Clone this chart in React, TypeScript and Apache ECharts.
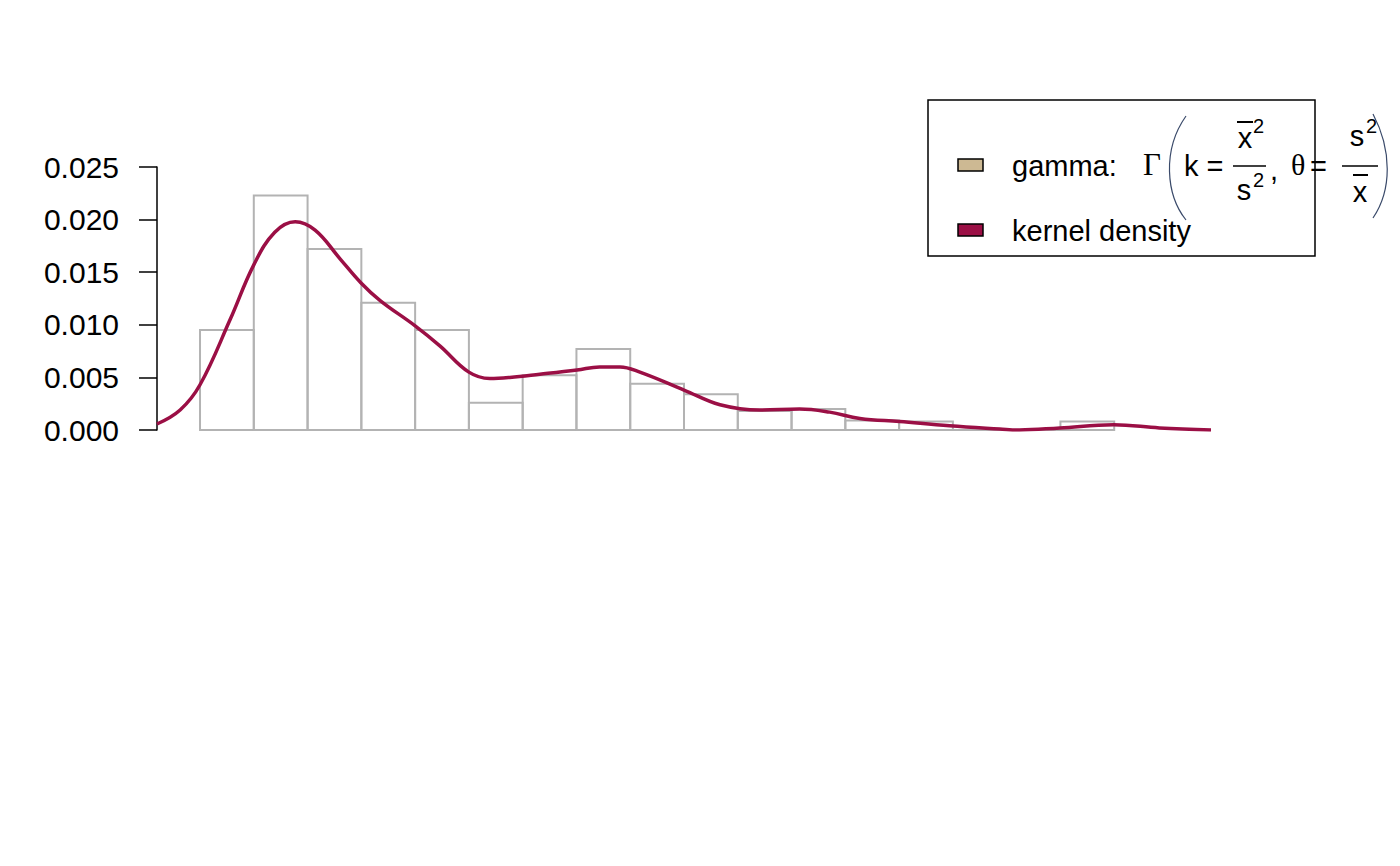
import React, { useEffect, useRef } from "react";
import * as echarts from "echarts";

const binStarts = [0, 1, 2, 3, 4, 5, 6, 7, 8, 9, 10, 11, 12, 13, 14, 15, 16];
const binHeights = [0.0095, 0.0223, 0.0172, 0.0121, 0.0095, 0.0026, 0.0052, 0.0077, 0.0044, 0.0034, 0.0018, 0.002, 0.0009, 0.0008, 0, 0, 0.0008];
const densX = [-0.8, -0.37, 0, 0.56, 1.0, 1.39, 1.77, 2.14, 2.6, 2.99, 3.35, 4.0, 4.46, 5.0, 5.39, 5.76, 6.32, 7.01, 7.43, 7.81, 8.18, 9.0, 9.67, 10.41, 11.15, 11.71, 12.27, 13.01, 13.94, 14.87, 15.24, 15.99, 16.99, 17.84, 18.8];
const densY = [0.00057, 0.0019, 0.0043, 0.0105, 0.0157, 0.0188, 0.0198, 0.019, 0.0163, 0.014, 0.0123, 0.0099, 0.008, 0.0055, 0.0049, 0.005, 0.0053, 0.0057, 0.006, 0.006, 0.0055, 0.0038, 0.0024, 0.0019, 0.002, 0.0017, 0.0011, 0.0008, 0.0004, 0.0001, 0, 0.0002, 0.0005, 0.0002, 0];
const yTicks = [0, 0.005, 0.01, 0.015, 0.02, 0.025];

const F = "Liberation Sans, Arial, sans-serif";
const txt = (x: number, y: number, text: string, size = 29, family = F, align = "left") => ({
  type: "text", x, y,
  style: { text, font: `${size}px ${family}`, fill: "#000", textAlign: align, textVerticalAlign: "middle" },
});
const ln = (x1: number, y1: number, x2: number, y2: number, w = 1.5) => ({
  type: "line", shape: { x1, y1, x2, y2 }, style: { stroke: "#000", lineWidth: w },
});

export default function App() {
  const ref = useRef<HTMLDivElement>(null);
  useEffect(() => {
    const chart = echarts.init(ref.current!, null, { renderer: "svg" });
    chart.setOption({
      animation: false,
      grid: { left: 157, right: 189, top: 167, bottom: 436 },
      xAxis: { type: "value", min: -0.8, max: 18.8, show: false },
      yAxis: {
        type: "value", min: 0, max: 0.025, interval: 0.005,
        axisLine: { show: true, onZero: false, lineStyle: { color: "#000", width: 1.5 } },
        axisTick: { show: true, length: 18, lineStyle: { color: "#000", width: 1.5 } },
        splitLine: { show: false },
        axisLabel: { color: "#000", fontSize: 30, fontFamily: F, margin: 38, formatter: (v: number) => v.toFixed(3) },
      },
      series: [
        {
          type: "custom",
          data: binStarts.map((s, i) => [s, binHeights[i]]),
          renderItem: (params: any, api: any) => {
            const s = api.value(0), h = api.value(1);
            const p0 = api.coord([s, 0]);
            const p1 = api.coord([s + 1, h]);
            return {
              type: "rect",
              shape: { x: p0[0], y: p1[1], width: p1[0] - p0[0], height: p0[1] - p1[1] },
              style: { fill: "none", stroke: "#b3b3b3", lineWidth: 2 },
            };
          },
        },
        {
          type: "line",
          data: densX.map((x, i) => [x, densY[i]]),
          smooth: 0.4,
          symbol: "none",
          lineStyle: { color: "#9b0f45", width: 3.5 },
          z: 5,
        },
      ],
      graphic: [
        { type: "rect", shape: { x: 928, y: 100, width: 387, height: 156 }, style: { fill: "#fff", stroke: "#000", lineWidth: 1.5 } },
        { type: "rect", shape: { x: 958, y: 159, width: 25, height: 12 }, style: { fill: "#cdb993", stroke: "#000", lineWidth: 1.5 } },
        { type: "rect", shape: { x: 958, y: 224, width: 25, height: 12 }, style: { fill: "#9b0f45", stroke: "#000", lineWidth: 1.5 } },
        txt(1012, 166, "gamma:"),
        txt(1143, 164, "Γ", 31, "Liberation Serif, serif"),
        { type: "bezierCurve", shape: { x1: 1186, y1: 116, cpx1: 1162, cpy1: 150, cpx2: 1166, cpy2: 195, x2: 1186, y2: 220 }, style: { stroke: "#3a4a6a", lineWidth: 1.2, fill: "none" } },
        txt(1184, 166, "k ="),
        txt(1245, 138, "x", 29, F, "center"),
        ln(1237, 122, 1253, 122, 2),
        txt(1253, 126, "2", 20),
        ln(1233, 166, 1266, 166, 1.5),
        txt(1244, 190, "s", 29, F, "center"),
        txt(1253, 180, "2", 20),
        txt(1270, 170, ","),
        txt(1291, 164, "θ", 30, "Liberation Serif, serif"),
        txt(1310, 166, "="),
        txt(1357, 136, "s", 29, F, "center"),
        txt(1366, 126, "2", 20),
        ln(1342, 166, 1378, 166, 1.5),
        txt(1360, 192, "x", 29, F, "center"),
        ln(1353, 175, 1368, 175, 2),
        { type: "bezierCurve", shape: { x1: 1373, y1: 114, cpx1: 1392, cpy1: 150, cpx2: 1392, cpy2: 190, x2: 1373, y2: 218 }, style: { stroke: "#3a4a6a", lineWidth: 1.2, fill: "none" } },
        txt(1012, 231, "kernel density"),
      ],
    });
    return () => chart.dispose();
  }, []);
  return <div ref={ref} style={{ position: "fixed", left: 0, top: 0, width: 1400, height: 866, background: "#fff" }} />;
}
